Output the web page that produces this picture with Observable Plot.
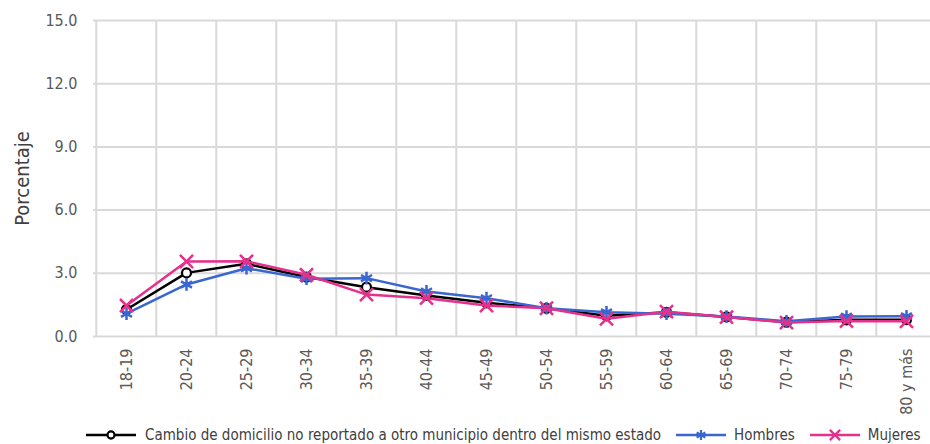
<!DOCTYPE html>
<html>
<head>
<meta charset="utf-8">
<script src="https://cdn.jsdelivr.net/npm/d3@7"></script>
<script src="https://cdn.jsdelivr.net/npm/@observablehq/plot@0.6"></script>
<style>
  body { margin: 0; background: #fff; }
  #chart { width: 930px; height: 444px; position: relative; overflow: hidden; font-family: "Liberation Sans Narrow", "Arial Narrow", "DejaVu Sans Condensed", sans-serif; }
  #legend { position: absolute; left: 86px; top: 424px; height: 22px; display: flex; align-items: center; font-size: 15px; color: #404040; white-space: nowrap; }
  .item { display: flex; align-items: center; }
  .item svg { display: block; }
</style>
</head>
<body>
<div id="chart"></div>
<script>
const categories = ["18-19","20-24","25-29","30-34","35-39","40-44","45-49","50-54","55-59","60-64","65-69","70-74","75-79","80 y más"];
const cambio  = [1.28, 3.02, 3.45, 2.82, 2.34, 1.95, 1.60, 1.34, 0.98, 1.15, 0.93, 0.68, 0.79, 0.80];
const hombres = [1.08, 2.47, 3.24, 2.74, 2.77, 2.14, 1.82, 1.34, 1.15, 1.08, 0.95, 0.72, 0.95, 0.96];
const mujeres = [1.47, 3.56, 3.57, 2.93, 1.99, 1.82, 1.47, 1.34, 0.84, 1.18, 0.92, 0.66, 0.73, 0.72];
const yTicks = [0, 3, 6, 9, 12, 15];
const seriesNames = ["Cambio de domicilio no reportado a otro municipio dentro del mismo estado", "Hombres", "Mujeres"];
const yLabel = "Porcentaje";

const colors = {black: "#000000", blue: "#3A66CF", pink: "#E6318C"};
const grid = "#d9d9d9";
const font = '"Liberation Sans Narrow", "Arial Narrow", "DejaVu Sans Condensed", sans-serif';

const W = 930, H = 424;
const mL = 93, mT = 20, mB = 88;
const xRange = [93, 939.5];
const step = (xRange[1] - xRange[0]) / categories.length;

const rows = (vals, s) => categories.map((c, i) => ({cat: c, v: vals[i], s}));
const dCambio = rows(cambio, seriesNames[0]);
const dHombres = rows(hombres, seriesNames[1]);
const dMujeres = rows(mujeres, seriesNames[2]);

const plot = Plot.plot({
  width: W, height: H,
  marginLeft: mL, marginRight: 0, marginTop: mT, marginBottom: mB,
  style: {fontFamily: font, fontSize: "16px", color: "#595959", background: "transparent", overflow: "visible"},
  x: {type: "point", domain: categories, range: xRange, padding: 0.5},
  y: {domain: [0, 15]},
  marks: [
    Plot.ruleY(yTicks, {y: d => d, stroke: grid, strokeWidth: 2}),
    Plot.ruleX(categories, {x: d => d, dx: -step / 2, stroke: grid, strokeWidth: 2}),
    Plot.axisY({ticks: yTicks, tickFormat: d3.format(".1f"), tickSize: 0, tickPadding: 16, label: null, fontSize: 16}),
    Plot.axisX({tickSize: 0, tickRotate: -90, tickPadding: 12, label: null, fontSize: 16}),
    Plot.text([yLabel], {frameAnchor: "left", textAnchor: "middle", text: d => d, rotate: -90, dx: -71, fontSize: 20, fill: "#404040"}),
    Plot.line(dCambio, {x: "cat", y: "v", stroke: colors.black, strokeWidth: 2.5}),
    Plot.dot(dCambio, {x: "cat", y: "v", symbol: "circle", r: 4.5, stroke: colors.black, fill: "white", strokeWidth: 2.2}),
    Plot.line(dHombres, {x: "cat", y: "v", stroke: colors.blue, strokeWidth: 2.5}),
    Plot.dot(dHombres, {x: "cat", y: "v", symbol: "asterisk", r: 6, stroke: colors.blue, strokeWidth: 2.5}),
    Plot.line(dMujeres, {x: "cat", y: "v", stroke: colors.pink, strokeWidth: 2.5}),
    Plot.dot(dMujeres, {x: "cat", y: "v", symbol: "times", r: 6, stroke: colors.pink, strokeWidth: 2.5})
  ]
});
const chart = document.getElementById("chart");
chart.appendChild(plot);

// legend
const legend = document.createElement("div");
legend.id = "legend";
const items = [
  {name: seriesNames[0], color: colors.black, sym: "circle", gapAfter: 15},
  {name: seriesNames[1], color: colors.blue, sym: "asterisk", gapAfter: 15},
  {name: seriesNames[2], color: colors.pink, sym: "times", gapAfter: 0}
];
const symMap = {circle: d3.symbolCircle, asterisk: d3.symbolAsterisk, times: d3.symbolTimes};
items.forEach(it => {
  const el = document.createElement("div");
  el.className = "item";
  el.style.marginRight = it.gapAfter + "px";
  const s = d3.create("svg").attr("width", 52).attr("height", 14);
  s.append("line").attr("x1", 0).attr("x2", 50).attr("y1", 7).attr("y2", 7).attr("stroke", it.color).attr("stroke-width", 2.5);
  s.append("path").attr("transform", "translate(25,7)")
    .attr("d", d3.symbol(symMap[it.sym], it.sym === "circle" ? 40 : 70)())
    .attr("fill", it.sym === "circle" ? "white" : "none")
    .attr("stroke", it.color).attr("stroke-width", 2.2);
  el.appendChild(s.node());
  const t = document.createElement("span");
  t.textContent = it.name;
  t.style.marginLeft = (it.sym === "circle" ? 7 : 6) + "px";
  el.appendChild(t);
  legend.appendChild(el);
});
chart.appendChild(legend);
</script>
</body>
</html>
